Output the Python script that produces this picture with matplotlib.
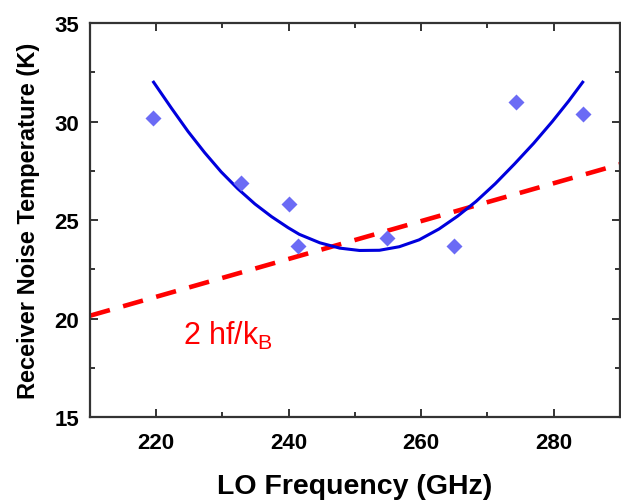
import matplotlib
matplotlib.use("Agg")
import matplotlib.pyplot as plt
from matplotlib.ticker import MultipleLocator

plt.rcParams["font.family"] = ["Liberation Sans", "DejaVu Sans"]
plt.rcParams["mathtext.fontset"] = "custom"
plt.rcParams["mathtext.rm"] = "Liberation Sans"

# measured receiver noise temperature
lo_freq = [219.5, 232.8, 240.0, 241.4, 254.9, 265.0, 274.3, 284.4]
noise_temp = [30.2, 26.9, 25.8, 23.7, 24.1, 23.7, 31.0, 30.4]

# fitted curve
fit_freq = [219.6, 222.3, 224.8, 227.3, 229.8, 232.3, 234.9, 237.4, 239.9,
            241.6, 244.7, 247.7, 250.7, 253.7, 256.7, 259.7, 262.7, 265.5,
            268.3, 271.2, 274.1, 277.0, 279.8, 282.3, 284.4]
fit_temp = [32.0, 30.68, 29.5, 28.43, 27.45, 26.6, 25.82, 25.18, 24.62,
            24.28, 23.85, 23.58, 23.46, 23.47, 23.65, 24.0, 24.55, 25.2,
            25.95, 26.85, 27.85, 28.9, 30.0, 31.05, 32.0]

# quantum limit 2hf/kB
limit_freq = [210, 290]
limit_temp = [20.15, 27.83]

fig = plt.figure(figsize=(6.21, 5.02), dpi=100)
ax = fig.add_axes([0.145, 0.167, 0.853, 0.785])

ax.plot(limit_freq, limit_temp, color="#ff0000", lw=3.3, dashes=(4.5, 3.0),
        solid_capstyle="butt", dash_capstyle="butt", zorder=2)
ax.plot(fit_freq, fit_temp, color="#0000dd", lw=2.2, zorder=3,
        solid_joinstyle="round")
ax.plot(lo_freq, noise_temp, ls="none", marker="D", ms=8.5,
        color="#6b6bf5", mec="none", zorder=4)

ax.text(224.0, 18.7, r"2 hf/k$_\mathregular{B}$", color="#ff0000",
        fontsize=22, ha="left", va="baseline")

ax.set_xlim(210, 290)
ax.set_ylim(15, 35)
ax.xaxis.set_major_locator(MultipleLocator(20))
ax.xaxis.set_minor_locator(MultipleLocator(10))
ax.yaxis.set_major_locator(MultipleLocator(5))
ax.yaxis.set_minor_locator(MultipleLocator(2.5))

for side in ax.spines.values():
    side.set_linewidth(1.6)
    side.set_color("#333333")

ax.tick_params(which="both", direction="in", top=True, right=True,
               color="#333333", width=1.4)
ax.tick_params(which="major", length=6)
ax.tick_params(which="minor", length=3.5)
ax.tick_params(axis="x", which="major", pad=11, labelsize=16)
ax.tick_params(axis="y", which="major", pad=8, labelsize=16)
for lbl in ax.get_xticklabels() + ax.get_yticklabels():
    lbl.set_fontweight("bold")

ax.set_xlabel("LO Frequency (GHz)", fontsize=20.5, fontweight="bold", labelpad=14)
ax.set_ylabel("Receiver Noise Temperature (K)", fontsize=17, fontweight="bold",
              labelpad=10)

fig.savefig("out.png", dpi=100)
